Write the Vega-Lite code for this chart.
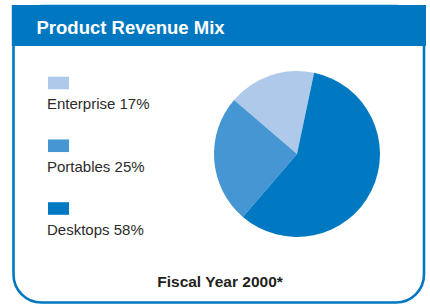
{
  "$schema": "https://vega.github.io/schema/vega-lite/v6.json",
  "width": 430,
  "height": 306,
  "autosize": {"type": "fit", "contains": "padding"},
  "padding": 0,
  "background": "white",
  "config": {"view": {"stroke": null}},
  "datasets": {
    "mix": [
      {"category": "Enterprise", "share": 17, "label": "Enterprise 17%"},
      {"category": "Portables", "share": 25, "label": "Portables 25%"},
      {"category": "Desktops", "share": 58, "label": "Desktops 58%"}
    ],
    "texts": [
      {"title": "Product Revenue Mix", "footer": "Fiscal Year 2000*"}
    ]
  },
  "layer": [
    {
      "data": {"name": "texts"},
      "mark": {"type": "rect", "fill": "white", "stroke": "#0078C1", "strokeWidth": 2.6, "cornerRadius": 28},
      "encoding": {
        "x": {"value": 13.5}, "x2": {"value": 424},
        "y": {"value": 6}, "y2": {"value": 302.5}
      }
    },
    {
      "data": {"name": "texts"},
      "mark": {"type": "rect", "fill": "#0078C1"},
      "encoding": {
        "x": {"value": 11.8}, "x2": {"value": 426},
        "y": {"value": 5}, "y2": {"value": 46}
      }
    },
    {
      "data": {"name": "texts"},
      "mark": {"type": "text", "align": "left", "baseline": "alphabetic", "font": "Liberation Sans, Arial, sans-serif", "fontSize": 18.5, "fontWeight": "bold", "color": "white"},
      "encoding": {
        "text": {"field": "title"},
        "x": {"value": 36.5}, "y": {"value": 33.5}
      }
    },
    {
      "data": {"name": "texts"},
      "mark": {"type": "text", "align": "center", "baseline": "alphabetic", "font": "Liberation Sans, Arial, sans-serif", "fontSize": 15.5, "fontWeight": "bold", "color": "#231F20"},
      "encoding": {
        "text": {"field": "footer"},
        "x": {"value": 220}, "y": {"value": 287}
      }
    },
    {
      "data": {"name": "mix"},
      "mark": {"type": "arc", "radius": 83, "stroke": null},
      "encoding": {
        "theta": {"field": "share", "type": "quantitative", "stack": true, "scale": {"range": [0.2077, 6.4909]}},
        "order": {"field": "share", "sort": "descending"},
        "color": {"field": "category", "type": "nominal", "legend": null,
          "scale": {"domain": ["Enterprise", "Portables", "Desktops"], "range": ["#AEC9EA", "#4596D3", "#0079C2"]}},
        "x": {"value": 297}, "y": {"value": 154}
      }
    },
    {
      "data": {"name": "mix"},
      "mark": {"type": "point", "filled": true, "opacity": 1, "shape": "M-1,-0.6H1V0.6H-1Z", "size": 441},
      "encoding": {
        "x": {"value": 58.5},
        "y": {"field": "category", "type": "nominal", "axis": null,
          "scale": {"type": "point", "domain": ["Enterprise", "Portables", "Desktops"], "range": [83, 208.5], "padding": 0}},
        "color": {"field": "category", "type": "nominal", "legend": null}
      }
    },
    {
      "data": {"name": "mix"},
      "mark": {"type": "text", "align": "left", "baseline": "alphabetic", "dy": 26, "font": "Liberation Sans, Arial, sans-serif", "fontSize": 15, "color": "#2B2B2B"},
      "encoding": {
        "text": {"field": "label"},
        "x": {"value": 47},
        "y": {"field": "category", "type": "nominal", "axis": null}
      }
    }
  ]
}
